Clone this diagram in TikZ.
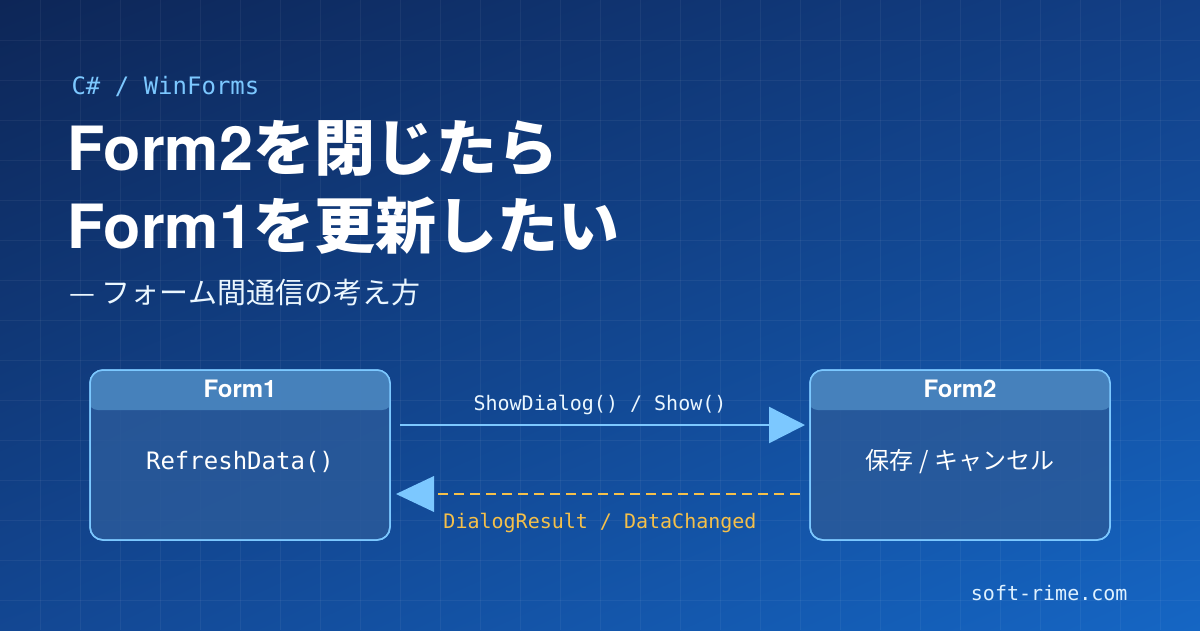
\documentclass[tikz,border=0pt]{standalone}
\usepackage{fontspec}
\setmainfont{Noto Sans CJK JP}
\newfontfamily\jp{Noto Sans CJK JP}
\newfontfamily\hv{TeX Gyre Heros}
\newfontfamily\mono{DejaVu Sans Mono}
\usetikzlibrary{arrows.meta,shadings}
\definecolor{bgA}{HTML}{0D2657}
\definecolor{bgM}{HTML}{123F86}
\definecolor{bgB}{HTML}{1566C4}
\definecolor{lblue}{HTML}{7CC8FF}
\definecolor{gold}{HTML}{F5C04A}
\definecolor{boxfill}{HTML}{2A5A9A}
\definecolor{headfill}{HTML}{4A86C0}
\tikzset{
  form/.style={draw=lblue, line width=1.5pt, rounded corners=13pt, fill=boxfill, fill opacity=0.85, draw opacity=1},
  head/.style={font=\hv\bfseries\fontsize{24}{26}\selectfont, text=white},
  body/.style={text=white},
  lab/.style={font=\mono\fontsize{20}{22}\selectfont},
  title/.style={anchor=west,text=white,font=\jp\bfseries\fontsize{61}{64}\selectfont},
}
\begin{document}
\begin{tikzpicture}[x=1pt,y=-1pt]
\useasboundingbox (0,0) rectangle (1200,630);
\shade[upper left=bgA,upper right=bgM,lower left=bgM!80!bgB,lower right=bgB] (0,0) rectangle (1200,630);
\begin{scope}[white,opacity=0.05,line width=0.8pt]
\foreach \x in {40,80,...,1160} \draw (\x,0) -- (\x,630);
\foreach \y in {40,80,...,600} \draw (0,\y) -- (1200,\y);
\end{scope}
\node[anchor=west,text=lblue,font=\mono\fontsize{24}{26}\selectfont] (tag) at (68,86) {C\# / WinForms};
\node[title] (t1) at (64,148) {{\hv\bfseries Form2}を閉じたら};
\node[title] (t2) at (64,226) {{\hv\bfseries Form1}を更新したい};
\node[anchor=west,text=white!85!lblue,font=\jp\fontsize{29}{32}\selectfont] (sub) at (66,292) {— フォーム間通信の考え方};
% boxes
\path[form] (90,370) rectangle (390,540);
\node (f1) at (240,455) [minimum width=300pt,minimum height=170pt] {};
\begin{scope}
\clip[rounded corners=13pt] (90,370) rectangle (390,540);
\fill[headfill,opacity=0.9,rounded corners=10pt] (88,360) rectangle (392,410);
\end{scope}
\draw[lblue,line width=1.5pt,rounded corners=13pt] (90,370) rectangle (390,540);
\node[head] (h1) at (240,389) {Form1};
\node[body,font=\mono\fontsize{24}{26}\selectfont] (b1) at (240,462) {RefreshData()};
\path[form] (810,370) rectangle (1110,540);
\node (f2) at (960,455) [minimum width=300pt,minimum height=170pt] {};
\begin{scope}
\clip[rounded corners=13pt] (810,370) rectangle (1110,540);
\fill[headfill,opacity=0.9,rounded corners=10pt] (808,360) rectangle (1112,410);
\end{scope}
\draw[lblue,line width=1.5pt,rounded corners=13pt] (810,370) rectangle (1110,540);
\node[head] (h2) at (960,389) {Form2};
\node[body,font=\jp\fontsize{24}{26}\selectfont] (b2) at (960,462) {保存 / キャンセル};
% arrows
\coordinate (a1) at (400,425);
\coordinate (a2) at (805,425);
\draw[lblue,line width=2.5pt,-{Triangle[length=36pt,width=36pt]}] (a1) -- (a2);
\node[lab,text=white!85!lblue] (l1) at (600,405) {ShowDialog() / Show()};
\coordinate (d1) at (800,494);
\coordinate (d2) at (396,494);
\draw[gold,line width=2.5pt,dash pattern=on 10pt off 6pt] (d1) -- (434,494);
\fill[lblue] (d2) -- (434,476) -- (434,512) -- cycle;
\node[lab,text=gold] (l2) at (600,523) {DialogResult / DataChanged};
\node[anchor=east,text=white!75!lblue,font=\mono\fontsize{20}{22}\selectfont] (site) at (1131,593) {soft-rime.com};
\end{tikzpicture}
\end{document}
